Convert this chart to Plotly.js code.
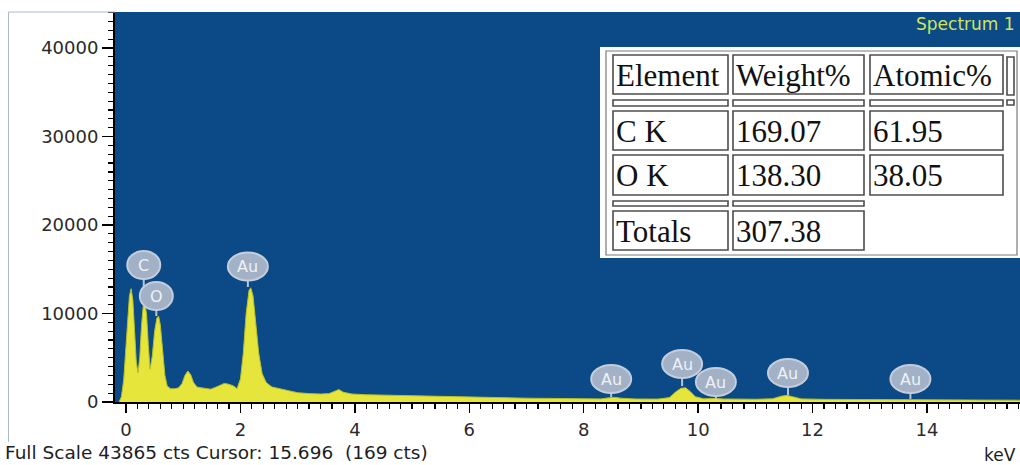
<!DOCTYPE html>
<html>
<head>
<meta charset="utf-8">
<script src="https://cdn.plot.ly/plotly-3.0.1.min.js"></script>
<style>html,body{margin:0;padding:0;background:#fff;}#chart{width:1020px;height:465px;}</style>
</head>
<body>
<div id="chart"></div>
<script>
// ---------------- DATA ----------------
const energyKeV = [
  -0.12, -0.08, -0.04, 0.00, 0.03, 0.06, 0.09, 0.12, 0.15, 0.18,
  0.21, 0.24, 0.27, 0.30, 0.33, 0.36, 0.39, 0.42, 0.46, 0.50,
  0.54, 0.57, 0.60, 0.64, 0.68, 0.72, 0.78, 0.85, 0.92, 0.98,
  1.03, 1.08, 1.13, 1.18, 1.24, 1.32, 1.40, 1.48, 1.56, 1.64,
  1.72, 1.80, 1.88, 1.94, 2.00, 2.05, 2.10, 2.15, 2.18, 2.22,
  2.27, 2.32, 2.38, 2.45, 2.55, 2.65, 2.80, 3.00, 3.20, 3.40,
  3.55, 3.65, 3.72, 3.80, 3.95, 4.20, 4.50, 5.00, 5.50, 6.00,
  6.50, 7.00, 7.50, 8.00, 8.30, 8.45, 8.55, 8.65, 8.90, 9.30,
  9.50, 9.60, 9.70, 9.78, 9.86, 9.95, 10.10, 10.30, 10.45, 11.00,
  11.30, 11.45, 11.55, 11.65, 11.80, 12.20, 13.00, 13.70, 14.00, 15.00,
  15.70
];
const counts = [
  0, 600, 2500, 6000, 9500, 12000, 12800, 11500, 8000, 4500,
  3300, 5000, 8500, 10800, 11300, 9800, 6500, 3700, 5200, 8000,
  9500, 9700, 8700, 5800, 3000, 1800, 1500, 1500, 1600, 2100,
  3000, 3500, 3100, 2200, 1700, 1600, 1550, 1450, 1650, 1850,
  2100, 2000, 1800, 1500, 2600, 5500, 10000, 12600, 12900, 12000,
  9000, 5500, 3200, 2200, 1700, 1550, 1300, 1050, 950, 900,
  950, 1250, 1400, 1100, 900, 820, 780, 650, 560, 500,
  460, 430, 400, 370, 350, 480, 520, 430, 340, 330,
  500, 1100, 1550, 1600, 1200, 600, 360, 400, 340, 310,
  360, 650, 750, 600, 350, 300, 280, 280, 250, 220,
  200
];

// Peak identification balloons
const peakLabels   = ['C', 'O', 'Au', 'Au', 'Au', 'Au', 'Au', 'Au'];
const peakKeV      = [0.31, 0.53, 2.13, 8.48, 9.72, 10.31, 11.57, 13.71];
const balloonCts   = [15480, 11977, 15311, 2599, 4294, 2260, 3277, 2599];
const stemEndCts   = [12994, 9718, 12994, 565, 1808, 339, 791, 339];

// Quantification table
const tableHeader   = ['Element', 'Weight%', 'Atomic%'];
const tableElements = ['C K', 'O K'];
const weightPct     = [169.07, 138.30];
const atomicPct     = [61.95, 38.05];
const totalWeight   = 307.38;

const yTickVals = [0, 10000, 20000, 30000, 40000];
const xTickVals = [0, 2, 4, 6, 8, 10, 12, 14];

const spectrumName = 'Spectrum 1';
const footerText = 'Full Scale 43865 cts Cursor: 15.696 \u00a0(169 cts)';
const xUnit = 'keV';

// ---------------- LAYOUT HELPERS ----------------
const L = 115, R = 1020, T = 12, B = 402;
const W = R - L, H = B - T;
const px = v => (v - L) / W;
const py = v => (B - v) / H;

const shapes = [];
const annotations = [];

// outer faint frame
shapes.push({type:'line', xref:'paper', yref:'paper', x0:px(8.5), x1:px(8.5), y0:py(12), y1:py(442), line:{color:'#a9bacb', width:1}, layer:'above'});
shapes.push({type:'line', xref:'paper', yref:'paper', x0:px(8.5), x1:px(115), y0:py(12), y1:py(12), line:{color:'#a9bacb', width:1}, layer:'above'});

// balloons: stems then ellipses
peakLabels.forEach((lab, i) => {
  shapes.push({type:'line', xref:'x', yref:'y', x0:peakKeV[i], x1:peakKeV[i], y0:balloonCts[i], y1:stemEndCts[i],
    line:{color:'#b9c5d5', width:2}, layer:'above'});
});
peakLabels.forEach((lab, i) => {
  const w = lab.length > 1 ? 40 : 33;
  const h = 28;
  shapes.push({type:'circle', xref:'x', yref:'y', xsizemode:'pixel', ysizemode:'pixel',
    xanchor:peakKeV[i], yanchor:balloonCts[i], x0:-w/2, x1:w/2, y0:-h/2, y1:h/2,
    fillcolor:'#a2b1c6', line:{color:'#c3cddb', width:2}, layer:'above'});
  annotations.push({xref:'x', yref:'y', x:peakKeV[i], y:balloonCts[i], text:lab, showarrow:false,
    xanchor:'center', yanchor:'middle', font:{family:'DejaVu Sans', size:16, color:'#eef2f7'}});
});

// table
const cellLine = {color:'#4d4d4d', width:1.6};
function rect(x0, y0, x1, y1, fill, line) {
  shapes.push({type:'rect', xref:'paper', yref:'paper', x0:px(x0), x1:px(x1), y0:py(y1), y1:py(y0),
    fillcolor:fill, line:line, layer:'above'});
}
rect(600, 47, 1020, 258, '#ffffff', {width:0});
rect(606, 51, 1017, 255, 'rgba(0,0,0,0)', {color:'#7a7a7a', width:1.2});
const cols = [[613, 728], [733, 864], [870, 1003]];
const rows = {header:[55, 94], sep1:[100, 106], r1:[111, 150], r2:[155, 195], sep2:[201, 206], tot:[211, 250]};
cols.forEach(c => {
  rect(c[0], rows.header[0], c[1], rows.header[1], '#ffffff', cellLine);
  rect(c[0], rows.sep1[0], c[1], rows.sep1[1], '#ffffff', cellLine);
  rect(c[0], rows.r1[0], c[1], rows.r1[1], '#ffffff', cellLine);
  rect(c[0], rows.r2[0], c[1], rows.r2[1], '#ffffff', cellLine);
});
[cols[0], cols[1]].forEach(c => {
  rect(c[0], rows.sep2[0], c[1], rows.sep2[1], '#ffffff', cellLine);
  rect(c[0], rows.tot[0], c[1], rows.tot[1], '#ffffff', cellLine);
});
rect(1007, 57, 1014, 95, '#ffffff', cellLine);
rect(1007, 100, 1014, 105, '#ffffff', cellLine);

const tFont = {family:'Liberation Serif, Times New Roman, serif', size:31, color:'#111111'};
function cellText(txt, c, r) {
  annotations.push({xref:'paper', yref:'paper', x:px(c[0] + 1), y:py((r[0] + r[1]) / 2 + 1), text:txt,
    showarrow:false, xanchor:'left', yanchor:'middle', font:tFont});
}
tableHeader.forEach((h, j) => cellText(h, cols[j], rows.header));
tableElements.forEach((el, i) => {
  const r = i === 0 ? rows.r1 : rows.r2;
  cellText(el, cols[0], r);
  cellText(weightPct[i].toFixed(2), cols[1], r);
  cellText(atomicPct[i].toFixed(2), cols[2], r);
});
cellText('Totals', cols[0], rows.tot);
cellText(totalWeight.toFixed(2), cols[1], rows.tot);

// texts
annotations.push({xref:'paper', yref:'paper', x:px(1017), y:py(24), text:spectrumName, showarrow:false,
  xanchor:'right', yanchor:'middle', font:{family:'DejaVu Sans', size:17, color:'#cfe45c'}});
annotations.push({xref:'paper', yref:'paper', x:px(3), y:py(452), text:footerText, showarrow:false,
  xanchor:'left', yanchor:'middle', font:{family:'DejaVu Sans', size:18.5, color:'#1e1e1e'}});
annotations.push({xref:'paper', yref:'paper', x:px(1018), y:py(455), text:xUnit, showarrow:false,
  xanchor:'right', yanchor:'middle', font:{family:'DejaVu Sans', size:17, color:'#1e1e1e'}});

// ---------------- TRACE ----------------
const trace = {
  x: energyKeV, y: counts, type:'scatter', mode:'lines', fill:'tozeroy',
  fillcolor:'#e6e53c', line:{color:'#b7bf2e', width:1}, hoverinfo:'x+y', showlegend:false
};

const x0px = 126, x14px = 927;
const pxPerKeV = (x14px - x0px) / 14;
const xmin = (L - x0px) / pxPerKeV, xmax = (R - x0px) / pxPerKeV;
const ymax = (B - T) / 88.5 * 10000;

const layout = {
  width:1020, height:465,
  margin:{l:L, r:1020 - R, t:T, b:465 - B, pad:0},
  paper_bgcolor:'#ffffff', plot_bgcolor:'#0b4a86',
  showlegend:false,
  xaxis:{range:[xmin, xmax], tickvals:xTickVals, ticktext:xTickVals.map(String),
    showgrid:false, zeroline:false, showline:true, linecolor:'#000', linewidth:2,
    ticks:'outside', ticklen:9, tickwidth:1.5, tickcolor:'#000', ticklabelstandoff:1,
    minor:{dtick:0.2, tick0:0, ticks:'outside', ticklen:5, tickwidth:1.2, tickcolor:'#000', showgrid:false},
    tickfont:{family:'DejaVu Sans', size:18, color:'#2a2a2a'}, automargin:false, fixedrange:true},
  yaxis:{range:[0, ymax], tickvals:yTickVals, ticktext:yTickVals.map(String),
    showgrid:false, zeroline:false, showline:true, linecolor:'#000', linewidth:2,
    ticks:'outside', ticklen:11, tickwidth:1.5, tickcolor:'#000',
    minor:{dtick:1000, tick0:0, ticks:'outside', ticklen:5, tickwidth:1.2, tickcolor:'#000', showgrid:false},
    tickfont:{family:'DejaVu Sans', size:18, color:'#2a2a2a'}, automargin:false, fixedrange:true},
  shapes: shapes,
  annotations: annotations
};

Plotly.newPlot('chart', [trace], layout, {displayModeBar:false, staticPlot:true});
</script>
</body>
</html>
